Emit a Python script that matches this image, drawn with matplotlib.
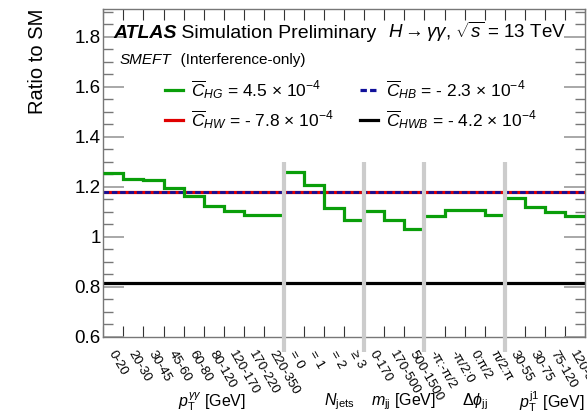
import matplotlib
matplotlib.use('Agg')
import matplotlib.pyplot as plt
from matplotlib.ticker import MultipleLocator, FixedLocator

plt.rcParams['font.family'] = ['Liberation Sans', 'DejaVu Sans']
plt.rcParams['mathtext.fontset'] = 'custom'
plt.rcParams['mathtext.rm'] = 'Liberation Sans'
plt.rcParams['mathtext.it'] = 'Liberation Sans:italic'
plt.rcParams['mathtext.bf'] = 'Liberation Sans:bold'

# bins of each observable
pt_yy_bins = ['0-20', '20-30', '30-45', '45-60', '60-80', '80-120', '120-170', '170-220', '220-350']
njets_bins = ['= 0', '= 1', '= 2', '≥ 3']
mjj_bins = ['0-170', '170-500', '500-1500']
dphi_bins = ['-π:-π/2', '-π/2:0', '0:π/2', 'π/2:π']
pt_j1_bins = ['30-55', '30-75', '75-120', '120-350']

group_names = [r'$p_{\rm T}^{\gamma\gamma}$ [GeV]', r'$N_{\rm jets}$', r'$m_{\rm jj}$ [GeV]',
               r'$\Delta\phi_{\rm jj}$', r'$p_{\rm T}^{\rm j1}$ [GeV]']

# ratio to SM for C_HG (per bin)
chg_pt_yy = [1.255, 1.231, 1.227, 1.193, 1.163, 1.123, 1.104, 1.087, 1.085]
chg_njets = [1.260, 1.205, 1.113, 1.067]
chg_mjj = [1.103, 1.065, 1.031]
chg_dphi = [1.081, 1.108, 1.105, 1.087]
chg_pt_j1 = [1.155, 1.117, 1.097, 1.081]

# flat ratios (decay only)
chw_ratio = 1.177
chb_ratio = 1.177
chwb_ratio = 0.813

green = '#0a9e0a'
red = '#e00000'
blue = '#10109a'
sep_gray = '#cccccc'

W, H = 587, 416
fig = plt.figure(figsize=(W / 100, H / 100), dpi=100)
ax = fig.add_axes([103.3 / W, 1 - 336.7 / H, (585 - 103.3) / W, (336.7 - 9) / H])

groups = [pt_yy_bins, njets_bins, mjj_bins, dphi_bins, pt_j1_bins]
chg = [chg_pt_yy, chg_njets, chg_mjj, chg_dphi, chg_pt_j1]
label_pos = [5.4, 11.75, 14.95, 18.5, 22.35]

xt = ax.get_xaxis_transform()
start = 0
separators = []
for labels, vals, name, lx in zip(groups, chg, group_names, label_pos):
    n = len(labels)
    ax.stairs(vals, range(start, start + n + 1), color=green, lw=2.3, baseline=None, zorder=3)
    for i, lab in enumerate(labels):
        ax.text(start + i + 0.4, -0.045, lab, transform=xt, rotation=-60,
                rotation_mode='anchor', ha='left', va='center', fontsize=9.5)
    ax.text(lx, -0.197, name, transform=xt, ha='center', va='center', fontsize=11.5)
    start += n
    if start < 24:
        separators.append(start)

ax.axhline(chw_ratio, color=red, lw=2.3, zorder=2)
ax.axhline(chb_ratio, color=blue, lw=2.0, ls=(0, (2, 1)), zorder=2)
ax.axhline(chwb_ratio, color='black', lw=2.3, zorder=2)

for s in separators:
    ax.plot([s, s], [0.54, 1.30], color=sep_gray, lw=3, clip_on=False, zorder=5,
            solid_capstyle='butt')

ax.set_xlim(0, 24)
ax.set_ylim(0.6, 1.911)
ax.xaxis.set_major_locator(FixedLocator(range(25)))
ax.set_xticklabels([])
ax.yaxis.set_minor_locator(MultipleLocator(0.05))
ax.set_yticks([0.6, 0.8, 1.0, 1.2, 1.4, 1.6, 1.8])
ax.set_yticklabels(['0.6', '0.8', '1', '1.2', '1.4', '1.6', '1.8'], fontsize=13.5)
ax.tick_params(axis='x', which='major', direction='in', top=True, bottom=True, length=8,
               width=0.8, color='#333333')
ax.tick_params(axis='y', which='major', direction='in', left=True, right=True, length=15,
               width=1.2, color='#999999', pad=2)
ax.tick_params(axis='y', which='minor', direction='in', left=True, right=True, length=7,
               width=1.0, color='#777777')
for sp in ax.spines.values():
    sp.set_color('#777777')
    sp.set_linewidth(1.0)

ax.set_ylabel('Ratio to SM', loc='top', fontsize=14.5)
ax.yaxis.set_label_coords(-0.117, 1.0)

# header
atl = fig.text(113 / W, 1 - 38 / H, 'ATLAS', fontsize=14, weight='bold', style='italic',
               va='baseline')
ax.annotate(' Simulation Preliminary', xy=(1, 0), xycoords=atl, fontsize=14, va='bottom')
fig.text(388 / W, 1 - 38 / H, r'$H \rightarrow \gamma\gamma$, $\sqrt{s}$ = 13 TeV',
         fontsize=13.5, va='baseline')
smeft = fig.text(120 / W, 1 - 64 / H, 'SMEFT', fontsize=11, style='italic', va='baseline')
ax.annotate('  (Interference-only)', xy=(1, 0), xycoords=smeft, fontsize=11, va='bottom')

# legend
entries = [
    (165, 90, green, '-', r'$\overline{C}_{HG}$ = 4.5 $\times$ 10$^{-4}$'),
    (360, 90, blue, (0, (2, 1)), r'$\overline{C}_{HB}$ = - 2.3 $\times$ 10$^{-4}$'),
    (165, 120, red, '-', r'$\overline{C}_{HW}$ = - 7.8 $\times$ 10$^{-4}$'),
    (360, 120, 'black', '-', r'$\overline{C}_{HWB}$ = - 4.2 $\times$ 10$^{-4}$'),
]
for x0, y0, c, ls, txt in entries:
    fig.add_artist(plt.Line2D([x0 / W, (x0 + 18) / W], [1 - y0 / H, 1 - y0 / H],
                              color=c, lw=2.3, ls=ls))
    fig.text((x0 + 26) / W, 1 - y0 / H, txt, fontsize=12.5, va='center')

fig.savefig('out.png', dpi=100)
